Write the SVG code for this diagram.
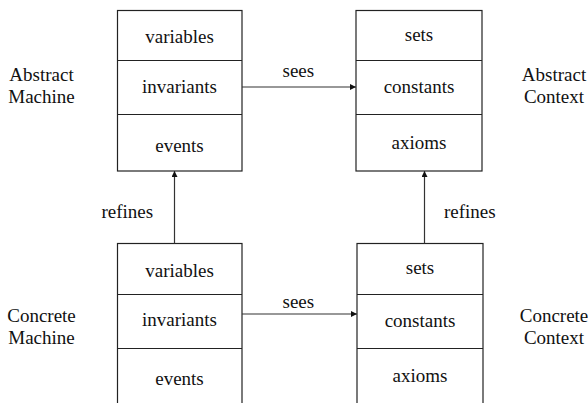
<svg xmlns="http://www.w3.org/2000/svg" width="588" height="403" viewBox="0 0 588 403" font-family="'Liberation Serif', serif" font-size="19">
  <style>
    .box { fill: #fff; stroke: #222; stroke-width: 1.2; }
    .div { stroke: #222; stroke-width: 1.2; }
    .conn { stroke: #333; stroke-width: 1.2; fill: none; }
    text { font-family: "Liberation Serif", serif; font-size: 19px; fill: #111; }
    .c { text-anchor: middle; }
  </style>
  <defs>
    <marker id="arrow" viewBox="0 0 10 10" refX="10" refY="5" markerWidth="6" markerHeight="6" markerUnits="userSpaceOnUse" orient="auto">
      <path d="M0,0 L10,5 L0,10 z" fill="#111"/>
    </marker>
  </defs>

  <!-- side captions -->
  <g id="captions">
    <text class="c" x="41.5" y="81">Abstract</text>
    <text class="c" x="41.5" y="103">Machine</text>
    <text class="c" x="554" y="81">Abstract</text>
    <text class="c" x="554" y="103">Context</text>
    <text class="c" x="41.5" y="322">Concrete</text>
    <text class="c" x="41.5" y="344">Machine</text>
    <text class="c" x="554" y="322">Concrete</text>
    <text class="c" x="554" y="344">Context</text>
  </g>

  <g id="abstract-machine">
    <rect class="box" x="117.5" y="10.5" width="124.5" height="160.5"/>
    <line class="div" x1="117.5" y1="60.5" x2="242" y2="60.5"/>
    <line class="div" x1="117.5" y1="114.5" x2="242" y2="114.5"/>
    <text class="c" x="179.5" y="43">variables</text>
    <text class="c" x="179.5" y="93">invariants</text>
    <text class="c" x="179.5" y="152">events</text>
  </g>

  <g id="abstract-context">
    <rect class="box" x="356" y="10.5" width="126" height="160.5"/>
    <line class="div" x1="356" y1="60.5" x2="482" y2="60.5"/>
    <line class="div" x1="356" y1="114.5" x2="482" y2="114.5"/>
    <text class="c" x="419" y="41">sets</text>
    <text class="c" x="419" y="93">constants</text>
    <text class="c" x="419" y="149">axioms</text>
  </g>

  <g id="concrete-machine">
    <rect class="box" x="117.5" y="243.5" width="124.5" height="170"/>
    <line class="div" x1="117.5" y1="294.5" x2="242" y2="294.5"/>
    <line class="div" x1="117.5" y1="348.5" x2="242" y2="348.5"/>
    <text class="c" x="179.5" y="277">variables</text>
    <text class="c" x="179.5" y="326">invariants</text>
    <text class="c" x="179.5" y="385">events</text>
  </g>

  <g id="concrete-context">
    <rect class="box" x="357" y="243.5" width="126" height="170"/>
    <line class="div" x1="357" y1="294.5" x2="483" y2="294.5"/>
    <line class="div" x1="357" y1="348.5" x2="483" y2="348.5"/>
    <text class="c" x="420" y="274">sets</text>
    <text class="c" x="420" y="327">constants</text>
    <text class="c" x="420" y="382">axioms</text>
  </g>

  <g id="connectors">
    <line class="conn" x1="242" y1="87" x2="356" y2="87" marker-end="url(#arrow)"/>
    <line class="conn" x1="242" y1="314" x2="357" y2="314" marker-end="url(#arrow)"/>
    <line class="conn" x1="174.5" y1="243.5" x2="174.5" y2="171" marker-end="url(#arrow)"/>
    <line class="conn" x1="424.5" y1="243.5" x2="424.5" y2="171" marker-end="url(#arrow)"/>
    <text x="282.5" y="77">sees</text>
    <text x="282.5" y="308">sees</text>
    <text x="101.5" y="218">refines</text>
    <text x="444" y="218">refines</text>
  </g>
</svg>
